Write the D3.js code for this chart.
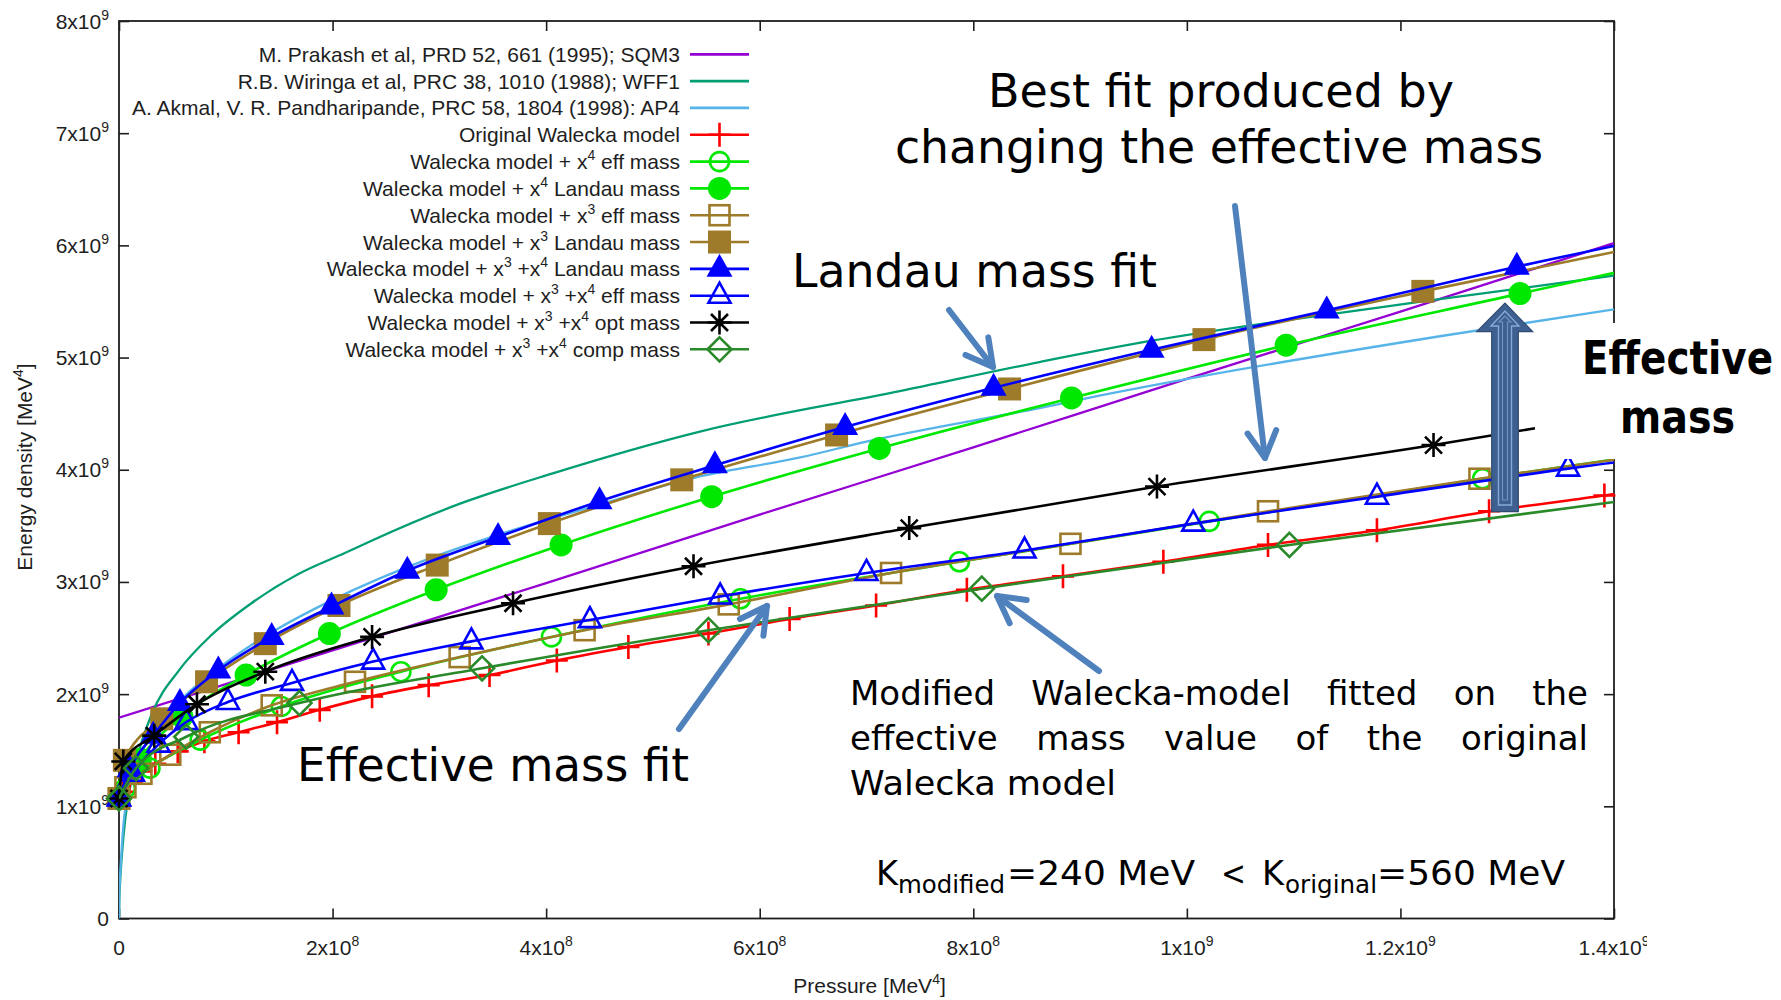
<!DOCTYPE html>
<html>
<head>
<meta charset="utf-8">
<script src="https://cdn.jsdelivr.net/npm/d3@7"></script>
<style>
  html, body { margin: 0; padding: 0; background: #fff; }
  svg { display: block; }
</style>
</head>
<body>
<svg id="chart" width="1781" height="1000"></svg>
<script>
// Pressure in units of 1e8 MeV^4, energy density in units of 1e9 MeV^4.

// Reference equations of state (lines only)
const sqm3P = [0, 2, 4, 6, 8, 10, 12, 14];
const sqm3E = [1.79, 2.39, 2.99, 3.60, 4.20, 4.81, 5.41, 6.02];

const wff1P = [0, 0.003, 0.01, 0.03, 0.06, 0.10, 0.18, 0.31, 0.56, 0.87, 1.24, 1.68, 2.12, 2.37, 3.2, 4.07, 5.44, 7.31, 8.62, 9.67, 11.06, 12.21, 14];
const wff1E = [0, 0.18, 0.32, 0.60, 0.90, 1.15, 1.47, 1.83, 2.21, 2.53, 2.81, 3.07, 3.26, 3.37, 3.70, 3.97, 4.34, 4.70, 4.96, 5.15, 5.35, 5.50, 5.73];

const ap4P = [0, 0.002, 0.006, 0.012, 0.025, 0.043, 0.09, 0.2, 0.35, 0.6, 0.93, 1.43, 2.0, 2.91, 3.55, 4.5, 5.44, 6.38, 7.0, 8.62, 9.18, 10.12, 12.37, 14];
const ap4E = [0, 0.18, 0.30, 0.41, 0.62, 0.85, 1.12, 1.45, 1.70, 1.97, 2.23, 2.55, 2.84, 3.21, 3.42, 3.69, 3.94, 4.11, 4.25, 4.55, 4.66, 4.83, 5.19, 5.43];

// Walecka-model variants (points carry markers)
const origP = [0, 0.03, 0.1, 0.21, 0.34, 0.55, 0.80, 1.12, 1.48, 1.88, 2.37, 2.90, 3.47, 4.10, 4.77, 5.52, 6.28, 7.09, 7.94, 8.84, 9.78, 10.76, 11.78, 12.83, 13.91];
const origE = [1.07, 1.13, 1.22, 1.31, 1.38, 1.49, 1.58, 1.66, 1.75, 1.86, 1.98, 2.08, 2.17, 2.30, 2.42, 2.54, 2.67, 2.79, 2.93, 3.05, 3.18, 3.33, 3.46, 3.63, 3.77];

const x4effP = [0, 0.06, 0.29, 0.76, 1.52, 2.64, 4.05, 5.82, 7.87, 10.21, 12.77];
const x4effE = [1.07, 1.16, 1.34, 1.59, 1.89, 2.20, 2.51, 2.85, 3.18, 3.54, 3.92];

const x4LandauP = [0, 0.2, 0.59, 1.19, 1.97, 2.97, 4.14, 5.55, 7.12, 8.92, 10.93, 13.12];
const x4LandauE = [1.07, 1.42, 1.80, 2.17, 2.54, 2.93, 3.33, 3.76, 4.19, 4.64, 5.11, 5.57];

const x3effP = [0, 0.06, 0.21, 0.48, 0.85, 1.43, 2.21, 3.19, 4.36, 5.71, 7.23, 8.91, 10.76, 12.74];
const x3effE = [1.07, 1.17, 1.29, 1.46, 1.66, 1.90, 2.11, 2.33, 2.57, 2.80, 3.08, 3.34, 3.63, 3.92];

const x3LandauP = [0, 0.05, 0.40, 0.82, 1.37, 2.06, 2.98, 4.03, 5.27, 6.72, 8.34, 10.16, 12.21];
const x3LandauE = [1.07, 1.41, 1.78, 2.11, 2.45, 2.79, 3.15, 3.52, 3.91, 4.31, 4.72, 5.16, 5.59];

const x34LandauP = [0, 0.1, 0.32, 0.57, 0.93, 1.43, 1.99, 2.70, 3.55, 4.50, 5.58, 6.80, 8.19, 9.67, 11.31, 13.09];
const x34LandauE = [1.07, 1.33, 1.63, 1.92, 2.21, 2.51, 2.78, 3.10, 3.40, 3.72, 4.04, 4.38, 4.73, 5.07, 5.42, 5.81];

const x34effP = [0, 0.13, 0.37, 0.63, 1.02, 1.62, 2.38, 3.30, 4.41, 5.63, 7.0, 8.48, 10.06, 11.78, 13.57];
const x34effE = [1.07, 1.29, 1.55, 1.75, 1.93, 2.10, 2.29, 2.47, 2.66, 2.87, 3.08, 3.28, 3.52, 3.76, 4.01];

const optP = [0, 0.04, 0.33, 0.73, 1.37, 2.37, 3.69, 5.38, 7.40, 9.72, 12.31];
const optE = [1.07, 1.40, 1.63, 1.91, 2.20, 2.51, 2.81, 3.14, 3.48, 3.85, 4.22];

const compP = [0, 0.16, 0.63, 1.69, 3.40, 5.52, 8.08, 10.96];
const compE = [1.07, 1.34, 1.62, 1.92, 2.23, 2.57, 2.94, 3.33];

// Last line point of each model (no marker there), in legend order
const tailP = [15.0, 15.5, 15.4, 14.9, 14.3, 15.0, 15.5, 13.26, 14.3];
const tailE = [3.92, 4.30, 6.05, 4.21, 6.00, 6.19, 4.24, 4.37, 3.75];

// Axis ticks
const xTickValues = [0, 2, 4, 6, 8, 10, 12, 14];
const xTickLabels = ["0", "2x10^8", "4x10^8", "6x10^8", "8x10^8", "1x10^9", "1.2x10^9", "1.4x10^9"];
const yTickValues = [0, 1, 2, 3, 4, 5, 6, 7, 8];
const yTickLabels = ["0", "1x10^9", "2x10^9", "3x10^9", "4x10^9", "5x10^9", "6x10^9", "7x10^9", "8x10^9"];

const legendLabels = [
  "M. Prakash et al, PRD 52, 661 (1995); SQM3",
  "R.B. Wiringa et al, PRC 38, 1010 (1988); WFF1",
  "A. Akmal, V. R. Pandharipande, PRC 58, 1804 (1998): AP4",
  "Original Walecka model",
  "Walecka model + x^4 eff mass",
  "Walecka model + x^4 Landau mass",
  "Walecka model + x^3 eff mass",
  "Walecka model + x^3 Landau mass",
  "Walecka model + x^3 +x^4 Landau mass",
  "Walecka model + x^3 +x^4 eff mass",
  "Walecka model + x^3 +x^4 opt mass",
  "Walecka model + x^3 +x^4 comp mass"
];

const zip = (P, E) => P.map((p, i) => [p, E[i]]);

const lineSeries = [
  { pts: zip(sqm3P, sqm3E), color: "#9400d3", width: 2.3 },
  { pts: zip(wff1P, wff1E), color: "#009e73", width: 2.3 },
  { pts: zip(ap4P, ap4E), color: "#56b4e9", width: 2.3 }
];

const modelSeries = [
  { pts: zip(origP, origE), color: "#ff0000", marker: "plus" },
  { pts: zip(x4effP, x4effE), color: "#00e800", marker: "circleOpen" },
  { pts: zip(x4LandauP, x4LandauE), color: "#00e800", marker: "circleFilled" },
  { pts: zip(x3effP, x3effE), color: "#9d7b2a", marker: "squareOpen" },
  { pts: zip(x3LandauP, x3LandauE), color: "#9d7b2a", marker: "squareFilled" },
  { pts: zip(x34LandauP, x34LandauE), color: "#0000ff", marker: "triFilled" },
  { pts: zip(x34effP, x34effE), color: "#0000ff", marker: "triOpen" },
  { pts: zip(optP, optE), color: "#000000", marker: "star" },
  { pts: zip(compP, compE), color: "#2a8a2a", marker: "diamondOpen" }
];
modelSeries.forEach((s, i) => { s.linePts = s.pts.concat([[tailP[i], tailE[i]]]); });

// ---------------- layout ----------------
const svg = d3.select("#chart");
const plot = { left: 119, right: 1614, top: 21, bottom: 918.5 };
const x = d3.scaleLinear().domain([0, 14]).range([plot.left, plot.right]);
const y = d3.scaleLinear().domain([0, 8]).range([plot.bottom, plot.top]);

const gnuFont = "'Liberation Sans', Arial, sans-serif";
const slideFont = "'DejaVu Sans', Verdana, sans-serif";
const ink = "#1e1e1e";

svg.append("rect").attr("width", 1781).attr("height", 1000).attr("fill", "#fff");

const defs = svg.append("defs");
defs.append("clipPath").attr("id", "plotClip").append("rect")
  .attr("x", plot.left).attr("y", plot.top)
  .attr("width", plot.right - plot.left).attr("height", plot.bottom - plot.top);
defs.append("clipPath").attr("id", "labelClip").append("rect")
  .attr("x", 0).attr("y", 0).attr("width", 1647).attr("height", 1000);

// inward ticks on all four sides
function styleAxis(g) {
  g.select(".domain").remove();
  g.selectAll(".tick line").attr("stroke", ink).attr("stroke-width", 1.6);
  g.selectAll(".tick text").remove();
}
svg.append("g").attr("transform", `translate(0,${plot.bottom})`)
  .call(d3.axisBottom(x).tickValues(xTickValues).tickSize(-10).tickFormat("")).call(styleAxis);
svg.append("g").attr("transform", `translate(0,${plot.top})`)
  .call(d3.axisTop(x).tickValues(xTickValues).tickSize(-10).tickFormat("")).call(styleAxis);
svg.append("g").attr("transform", `translate(${plot.left},0)`)
  .call(d3.axisLeft(y).tickValues(yTickValues).tickSize(-10).tickFormat("")).call(styleAxis);
svg.append("g").attr("transform", `translate(${plot.right},0)`)
  .call(d3.axisRight(y).tickValues(yTickValues).tickSize(-10).tickFormat("")).call(styleAxis);

svg.append("rect")
  .attr("x", plot.left).attr("y", plot.top)
  .attr("width", plot.right - plot.left).attr("height", plot.bottom - plot.top)
  .attr("fill", "none").attr("stroke", ink).attr("stroke-width", 1.8);

// text with "^n" turned into superscripts
function richText(sel, str, supSize, supShift) {
  const parts = str.split(/\^(\d)/);
  parts.forEach((p, i) => {
    if (p === "") return;
    if (i % 2 === 1) {
      sel.append("tspan").attr("dy", -supShift).attr("font-size", supSize).text(p);
    } else {
      const t = sel.append("tspan").text(p);
      if (i > 0) t.attr("dy", supShift);
    }
  });
}

// tick labels
const xLab = svg.append("g").attr("clip-path", "url(#labelClip)")
  .attr("font-family", gnuFont).attr("font-size", 21).attr("fill", ink);
xTickValues.forEach((v, i) => {
  const t = xLab.append("text").attr("x", x(v)).attr("y", 955).attr("text-anchor", "middle");
  richText(t, xTickLabels[i], 14, 9);
});
const yLab = svg.append("g").attr("font-family", gnuFont).attr("font-size", 21).attr("fill", ink);
yTickValues.forEach((v, i) => {
  const t = yLab.append("text").attr("x", 109).attr("y", y(v) + 7.5).attr("text-anchor", "end");
  richText(t, yTickLabels[i], 14, 9);
});

// axis titles
const xTitle = svg.append("text").attr("x", (plot.left + plot.right) / 2 + 3).attr("y", 993)
  .attr("text-anchor", "middle").attr("font-family", gnuFont).attr("font-size", 21).attr("fill", ink);
richText(xTitle, "Pressure [MeV^4]", 14, 9);
const yTitle = svg.append("text").attr("transform", "translate(32,467) rotate(-90)")
  .attr("text-anchor", "middle").attr("font-family", gnuFont).attr("font-size", 21).attr("fill", ink);
richText(yTitle, "Energy density [MeV^4]", 14, 9);

// ---------------- markers ----------------
function drawMarker(g, kind, color, cx, cy) {
  const sw = 2.6;
  switch (kind) {
    case "plus":
      g.append("path").attr("d", `M${cx - 11},${cy}H${cx + 11}M${cx},${cy - 12}V${cy + 12}`)
        .attr("stroke", color).attr("stroke-width", sw).attr("fill", "none");
      break;
    case "circleOpen":
      g.append("circle").attr("cx", cx).attr("cy", cy).attr("r", 9.5)
        .attr("fill", "none").attr("stroke", color).attr("stroke-width", sw);
      break;
    case "circleFilled":
      g.append("circle").attr("cx", cx).attr("cy", cy).attr("r", 11.5).attr("fill", color);
      break;
    case "squareOpen":
      g.append("rect").attr("x", cx - 10).attr("y", cy - 10).attr("width", 20).attr("height", 20)
        .attr("fill", "none").attr("stroke", color).attr("stroke-width", sw);
      break;
    case "squareFilled":
      g.append("rect").attr("x", cx - 11.5).attr("y", cy - 11.5).attr("width", 23).attr("height", 23)
        .attr("fill", color);
      break;
    case "triFilled":
      g.append("path").attr("d", `M${cx},${cy - 15}L${cx + 13},${cy + 8}L${cx - 13},${cy + 8}Z`)
        .attr("fill", color);
      break;
    case "triOpen":
      g.append("path").attr("d", `M${cx},${cy - 13}L${cx + 11},${cy + 7}L${cx - 11},${cy + 7}Z`)
        .attr("fill", "none").attr("stroke", color).attr("stroke-width", sw).attr("stroke-linejoin", "miter");
      break;
    case "star": {
      const r = 12, d = 8.5;
      g.append("path")
        .attr("d", `M${cx - r},${cy}H${cx + r}M${cx},${cy - r}V${cy + r}M${cx - d},${cy - d}L${cx + d},${cy + d}M${cx - d},${cy + d}L${cx + d},${cy - d}`)
        .attr("stroke", color).attr("stroke-width", sw).attr("fill", "none");
      break;
    }
    case "diamondOpen":
      g.append("path").attr("d", `M${cx},${cy - 12}L${cx + 12},${cy}L${cx},${cy + 12}L${cx - 12},${cy}Z`)
        .attr("fill", "none").attr("stroke", color).attr("stroke-width", sw);
      break;
  }
}

// ---------------- curves ----------------
const line = d3.line().x(d => x(d[0])).y(d => y(d[1])).curve(d3.curveMonotoneX);
const curves = svg.append("g");

lineSeries.forEach(s => {
  curves.append("path").datum(s.pts).attr("d", line).attr("clip-path", "url(#plotClip)")
    .attr("fill", "none").attr("stroke", s.color).attr("stroke-width", s.width);
});
modelSeries.forEach(s => {
  const g = curves.append("g");
  g.append("path").datum(s.linePts).attr("d", line).attr("clip-path", "url(#plotClip)")
    .attr("fill", "none").attr("stroke", s.color).attr("stroke-width", 2.6);
  s.pts.filter(d => d[0] <= 14).forEach(d => drawMarker(g, s.marker, s.color, x(d[0]), y(d[1])));
});

// ---------------- key ----------------
const key = svg.append("g");
const allSeries = lineSeries.concat(modelSeries);
legendLabels.forEach((lab, i) => {
  const cy = 54.3 + i * 26.82;
  const s = allSeries[i];
  const t = key.append("text").attr("x", 680).attr("y", cy + 7.5).attr("text-anchor", "end")
    .attr("font-family", gnuFont).attr("font-size", 21).attr("fill", ink);
  richText(t, lab, 14, 9);
  key.append("line").attr("x1", 690).attr("x2", 749).attr("y1", cy).attr("y2", cy)
    .attr("stroke", s.color).attr("stroke-width", s.width ? 2.8 : 2.6);
  if (s.marker) drawMarker(key, s.marker, s.color, 719.5, cy);
});

// ---------------- annotations ----------------
const annot = svg.append("g");

function fitText(str, x0, base, width, size, weight) {
  return annot.append("text").attr("x", x0).attr("y", base)
    .attr("font-family", slideFont).attr("font-size", size)
    .attr("font-weight", weight || "normal").attr("fill", "#000")
    .attr("textLength", width).attr("lengthAdjust", "spacingAndGlyphs").text(str);
}

function justifiedLine(words, left, right, base, size) {
  const nodes = words.map(w => annot.append("text").attr("y", base)
    .attr("font-family", slideFont).attr("font-size", size).attr("fill", "#000").text(w));
  const widths = nodes.map(n => n.node().getComputedTextLength());
  const gap = (right - left - d3.sum(widths)) / (words.length - 1);
  let cx = left;
  nodes.forEach((n, i) => { n.attr("x", cx); cx += widths[i] + gap; });
}

function arrow(x1, y1, x2, y2) {
  const g = annot.append("g").attr("stroke", "#4f81bd").attr("stroke-width", 6)
    .attr("stroke-linecap", "round").attr("stroke-linejoin", "round").attr("fill", "none");
  const a = Math.atan2(y2 - y1, x2 - x1), L = 30, s = 0.5;
  g.append("line").attr("x1", x1).attr("y1", y1).attr("x2", x2).attr("y2", y2);
  g.append("polyline").attr("points", [
    [x2 - L * Math.cos(a - s), y2 - L * Math.sin(a - s)],
    [x2, y2],
    [x2 - L * Math.cos(a + s), y2 - L * Math.sin(a + s)]
  ].map(p => p.join(",")).join(" "));
}

fitText("Best fit produced by", 988, 107, 466, 47);
fitText("changing the effective mass", 895, 163, 648, 47);
fitText("Landau mass fit", 792, 287, 365, 46);
fitText("Effective mass fit", 297, 781, 392, 46);

justifiedLine(["Modified", "Walecka-model", "fitted", "on", "the"], 850, 1588, 705, 34);
justifiedLine(["effective", "mass", "value", "of", "the", "original"], 850, 1588, 750, 34);
fitText("Walecka model", 850, 795, 266, 34);

fitText("K", 876, 885, 22, 34);
fitText("modified", 898, 893, 107, 25);
fitText("=240 MeV", 1007, 885, 188, 34);
fitText("<", 1221, 885, 25, 34);
fitText("K", 1262, 885, 22, 34);
fitText("original", 1285, 893, 92, 25);
fitText("=560 MeV", 1377, 885, 188, 34);

arrow(949, 310, 993, 367);
arrow(1235, 206, 1265, 458);
arrow(679, 729, 767, 606);
arrow(1099, 671, 997, 596);

// block arrow marking the effective-mass shift
annot.append("path")
  .attr("d", "M1491.7,511.7V331.7H1476.7L1505,303L1532.7,331.7H1518.3V511.7Z")
  .attr("fill", "#3e6090").attr("stroke", "#2f4b72").attr("stroke-width", 1.2);
annot.append("path")
  .attr("d", "M1498.5,505V326H1491L1505,311L1519,326H1511.5V505Z")
  .attr("fill", "none").attr("stroke", "#86a9d8").attr("stroke-width", 1.4);
annot.append("path")
  .attr("d", "M1502.5,500V322H1499L1505,316L1511,322H1507.5V500Z")
  .attr("fill", "none").attr("stroke", "#6d92c6").attr("stroke-width", 1.2);

// boxed label on the right
annot.append("rect").attr("x", 1560).attr("y", 323).attr("width", 221).attr("height", 136).attr("fill", "#fff");
fitText("Effective", 1582, 374, 191, 46, "bold");
fitText("mass", 1620, 433, 115, 46, "bold");
</script>
</body>
</html>
